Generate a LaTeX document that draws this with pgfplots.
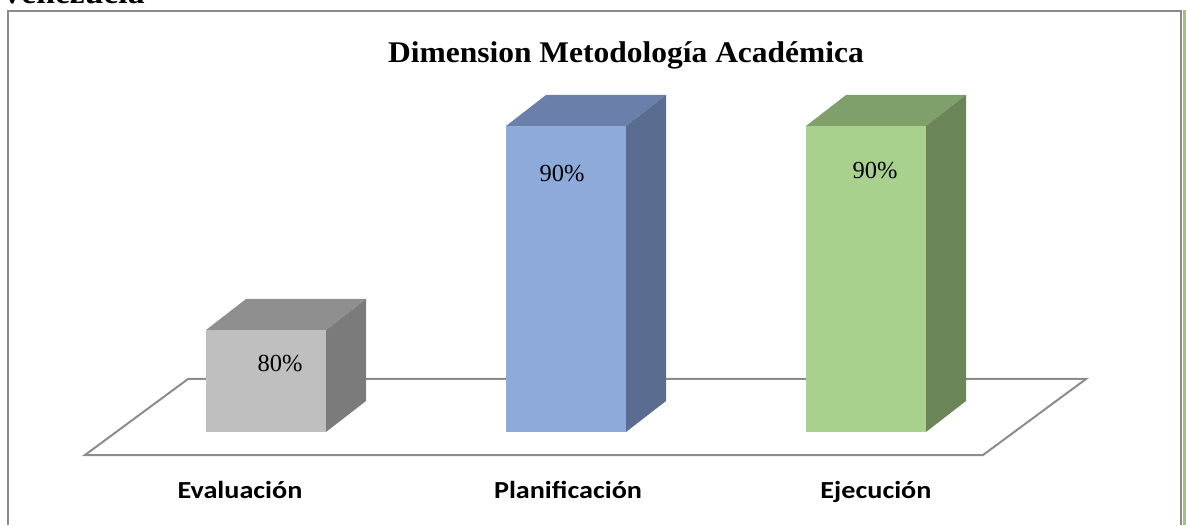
\documentclass[border=0pt]{standalone}
\usepackage{pgfplots}
\pgfplotsset{compat=1.18}
\usepackage{fontspec}
\setmainfont{Liberation Serif}
\newfontfamily\titlefont[FakeStretch=1.05]{Liberation Serif}
\newfontfamily\catfont[FakeStretch=1.15]{Carlito}

\definecolor{grayFront}{HTML}{BFBFBF}
\definecolor{grayTop}{HTML}{8F8F8F}
\definecolor{graySide}{HTML}{7B7B7B}
\definecolor{blueFront}{HTML}{8EAADB}
\definecolor{blueTop}{HTML}{6A80AA}
\definecolor{blueSide}{HTML}{5A6C8F}
\definecolor{greenFront}{HTML}{A9D18E}
\definecolor{greenTop}{HTML}{80A06B}
\definecolor{greenSide}{HTML}{6B8558}
\definecolor{frameGray}{HTML}{8A8A8A}
\definecolor{floorGray}{HTML}{8C8C8C}
\definecolor{edgeGreen}{HTML}{9CC583}

% value at which the bars stand, and points per percent on the y axis
\newcommand\barbase{75}
\newcommand\yunit{20.4}

% a 3D bar as a plot mark: origin is the top centre of the front face,
% its height comes from the plotted value \rawy
\newcommand\declarecube[4]{%
  \pgfdeclareplotmark{#1}{%
    \pgfmathsetmacro\barh{(\rawy-\barbase)*\yunit}%
    \pgfmathsetmacro\barb{31-\barh}%
    % front face
    \pgfpathrectanglecorners{\pgfpoint{-60pt}{-\barh pt}}{\pgfpoint{60pt}{0pt}}%
    \pgfsetfillcolor{#2}\pgfusepath{fill}%
    % top face
    \pgfpathmoveto{\pgfpoint{-60pt}{0pt}}%
    \pgfpathlineto{\pgfpoint{60pt}{0pt}}%
    \pgfpathlineto{\pgfpoint{100pt}{31pt}}%
    \pgfpathlineto{\pgfpoint{-20pt}{31pt}}%
    \pgfpathclose
    \pgfsetfillcolor{#3}\pgfusepath{fill}%
    % side face
    \pgfpathmoveto{\pgfpoint{60pt}{0pt}}%
    \pgfpathlineto{\pgfpoint{100pt}{31pt}}%
    \pgfpathlineto{\pgfpoint{100pt}{\barb pt}}%
    \pgfpathlineto{\pgfpoint{60pt}{-\barh pt}}%
    \pgfpathclose
    \pgfsetfillcolor{#4}\pgfusepath{fill}%
  }%
}
\declarecube{cubeGray}{grayFront}{grayTop}{graySide}
\declarecube{cubeBlue}{blueFront}{blueTop}{blueSide}
\declarecube{cubeGreen}{greenFront}{greenTop}{greenSide}

\begin{document}
\begin{tikzpicture}
  \useasboundingbox (0pt,0pt) rectangle (1186pt,525pt);

  % heading line of the surrounding text
  \node[anchor=base west, inner sep=0pt] at (0pt,521pt)
    {\titlefont\bfseries\fontsize{32}{36}\selectfont Venezuela};

  % chart frame
  \draw[frameGray, line width=1.5pt] (8pt,0pt) -- (8pt,514pt) -- (1181pt,514pt) -- (1181pt,0pt);
  \fill[edgeGreen] (1182.5pt,0pt) rectangle (1186pt,515pt);

  % title
  \node[anchor=base, inner sep=0pt] at (626pt,462pt)
    {\titlefont\bfseries\fontsize{30}{34}\selectfont Dimension Metodología Académica};

  % floor
  \draw[floorGray, line width=2pt, line join=miter]
    (85pt,70pt) -- (983pt,70pt) -- (1086pt,146pt) -- (188pt,146pt) -- cycle;

  \begin{axis}[
    at={(86pt,93pt)}, anchor=south west,
    x=300pt, y=20.4pt,
    xmin=-0.6, xmax=2.6, ymin=75, ymax=95,
    clip=false,
    axis line style={draw=none},
    ytick=\empty,
    xtick={-0.0867,1.0067,2.0333},
    xticklabels={Evaluación,Planificación,Ejecución},
    xtick style={draw=none},
    major tick length=0pt,
    xticklabel style={anchor=base, yshift=-66pt,
      font=\catfont\bfseries\fontsize{24.5}{28}\selectfont},
    visualization depends on=rawy\as\rawy,
    point meta=y,
    /pgf/number format/assume math mode=true,
    nodes near coords={\pgfmathprintnumber{\pgfplotspointmeta}\%},
    every node near coord/.append style={anchor=center, text=black,
      font=\fontsize{24.5}{28}\selectfont},
  ]
    \addplot[only marks, mark=cubeGray,
      nodes near coords style={xshift=14pt, yshift=-34pt}]
      coordinates {(0,80)};
    \addplot[only marks, mark=cubeBlue,
      nodes near coords style={xshift=-4pt, yshift=-48pt}]
      coordinates {(1,90)};
    \addplot[only marks, mark=cubeGreen,
      nodes near coords style={xshift=9pt, yshift=-45pt}]
      coordinates {(2,90)};
  \end{axis}
\end{tikzpicture}
\end{document}
